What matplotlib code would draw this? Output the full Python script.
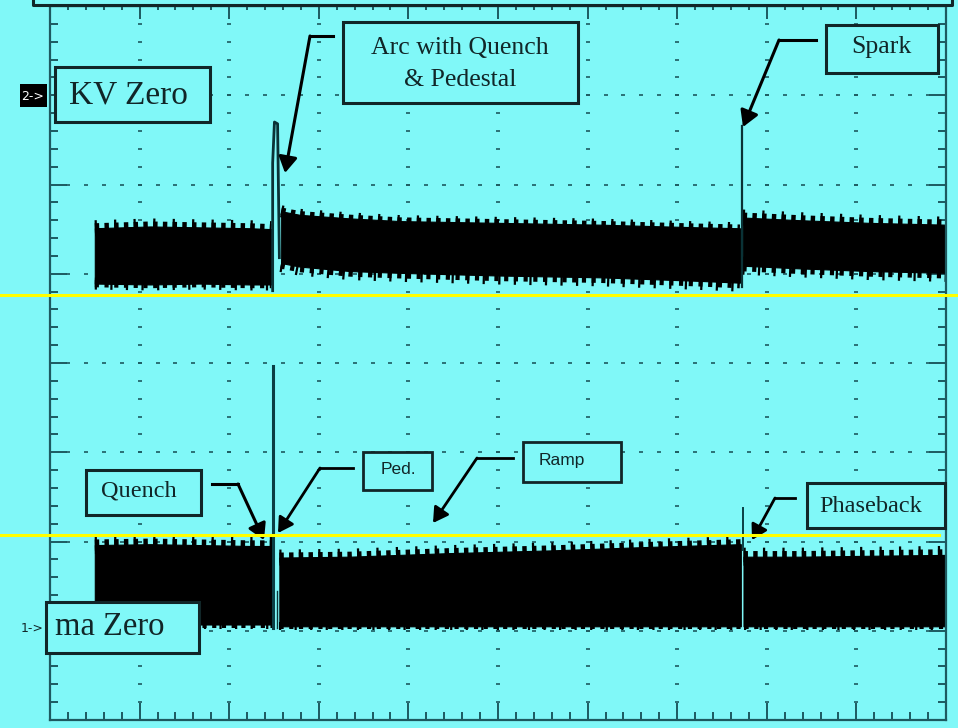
import matplotlib
matplotlib.use('Agg')
import matplotlib.pyplot as plt
from matplotlib.patches import Rectangle, FancyArrowPatch
from matplotlib.lines import Line2D
import numpy as np

plt.rcParams['lines.scale_dashes'] = False

BG = '#80f8f8'
INK = '#112628'
TEAL = '#1d5a60'
W, H = 958, 728

# --- trace envelopes, in scope divisions (x: 0..10, y: 0..8) ---
# channel 2 (kV)
kv_t_pre = [0.50, 1.12, 1.67, 2.23, 2.47]
kv_top_pre = [5.51, 5.53, 5.52, 5.51, 5.50]
kv_bot_pre = [4.89, 4.88, 4.89, 4.88, 4.88]
kv_t_mid = [2.58, 2.79, 3.35, 3.91, 5.02, 6.14, 7.25, 7.70]
kv_top_mid = [5.70, 5.66, 5.62, 5.59, 5.57, 5.55, 5.52, 5.51]
kv_bot_mid = [5.12, 5.08, 5.03, 5.01, 4.98, 4.96, 4.92, 4.90]
kv_t_post = [7.73, 8.37, 9.15, 10.0]
kv_top_post = [5.63, 5.60, 5.57, 5.55]
kv_bot_post = [5.09, 5.06, 5.03, 5.01]
kv_arc_t = [2.485, 2.485, 2.505, 2.54, 2.56]
kv_arc_v = [4.81, 6.24, 6.70, 6.68, 5.18]
kv_spark_t = 7.72
kv_spark_v = [4.85, 6.66]

# channel 1 (mA)
ma_t_pre = [0.50, 1.12, 1.67, 2.23, 2.48]
ma_top_pre = [1.96, 1.97, 1.96, 1.95, 1.95]
ma_bot_pre = [1.07, 1.07, 1.07, 1.07, 1.07]
ma_t_mid = [2.56, 3.35, 4.46, 5.58, 6.70, 7.71]
ma_top_mid = [1.82, 1.83, 1.87, 1.90, 1.94, 1.97]
ma_bot_mid = [1.05, 1.05, 1.05, 1.05, 1.05, 1.05]
ma_t_post = [7.74, 8.37, 9.15, 10.0]
ma_top_post = [1.83, 1.83, 1.84, 1.85]
ma_bot_post = [1.05, 1.05, 1.05, 1.05]
ma_spike_t = 2.49
ma_spike_v = [1.03, 3.97]
ma_phase_t = 7.73
ma_phase_v = [1.90, 2.37]

fig = plt.figure(figsize=(W / 100, H / 100), dpi=100, facecolor=BG)
ax = fig.add_axes([50 / W, 8 / H, 896 / W, 714 / H], facecolor=BG)
ax.set_xlim(0, 10)
ax.set_ylim(0, 8)

# graticule dots
for gy in range(1, 8):
    gx = np.arange(0.2, 10, 0.2)
    ax.plot(gx, np.full_like(gx, gy), ls='none', marker='_', ms=3, mew=1.2, color=TEAL, zorder=1)
for gx in range(1, 10):
    gy = np.arange(0.2, 8, 0.2)
    ax.plot(np.full_like(gy, gx), gy, ls='none', marker='_', ms=3, mew=1.2, color=TEAL, zorder=1)


def band(t, top, bot, up=8, down=6):
    ax.fill_between(t, bot, top, color='black', lw=0.8, zorder=2)
    # comb-like fringe of the sampled trace
    ax.plot(t, top, color='black', lw=up * 0.9, dashes=(3.2, 3.8),
            dash_capstyle='butt', zorder=2)
    ax.plot(t, top, color='black', lw=up * 1.44, dashes=(1.6, 12.4),
            dash_capstyle='butt', zorder=2)
    ax.plot(t, bot, color='black', lw=down * 0.9, dashes=(3.0, 4.0),
            dash_capstyle='butt', zorder=2)
    ax.plot(t, bot, color='black', lw=down * 1.44, dashes=(1.6, 9.6),
            dash_capstyle='butt', zorder=2)


band(kv_t_pre, kv_top_pre, kv_bot_pre, 8, 6)
band(kv_t_mid, kv_top_mid, kv_bot_mid, 6, 9)
band(kv_t_post, kv_top_post, kv_bot_post, 8, 9)
ax.plot(kv_arc_t, kv_arc_v, color='#0a3236', lw=2.0, zorder=3)
ax.plot([kv_spark_t, kv_spark_t], kv_spark_v, color='#0a3236', lw=1.6, zorder=3)

band(ma_t_pre, ma_top_pre, ma_bot_pre, 9, 4)
band(ma_t_mid, ma_top_mid, ma_bot_mid, 8, 4)
band(ma_t_post, ma_top_post, ma_bot_post, 9, 4)
ax.plot([ma_spike_t, ma_spike_t], ma_spike_v, color='#0a3e44', lw=2.2, zorder=3)
ax.plot([2.53, 2.53], [1.03, 1.45], color='#0a3236', lw=1.0, zorder=3)
ax.plot([ma_phase_t, ma_phase_t], ma_phase_v, color='#0a3e44', lw=1.4, zorder=3)

# frame & ticks
for s in ax.spines.values():
    s.set_color(TEAL)
    s.set_linewidth(1.6)
ax.set_xticks(np.arange(0, 11, 1))
ax.set_xticks(np.arange(0, 10.01, 0.2), minor=True)
ax.set_yticks(np.arange(0, 9, 1))
ax.set_yticks(np.arange(0, 8.01, 0.2), minor=True)
ax.tick_params(which='both', direction='in', left=True, right=True, bottom=True, top=False,
               labelleft=False, labelbottom=False, color=TEAL, width=1.4)
ax.tick_params(which='major', length=12)
ax.tick_params(which='minor', length=6)
sec = ax.secondary_xaxis('top')
sec.set_xticks(np.arange(0, 11, 1))
sec.set_xticks(np.arange(0, 10.01, 0.2), minor=True)
sec.tick_params(which='both', direction='in', labeltop=False, color=TEAL, width=1.4)
sec.tick_params(which='major', length=9)
sec.tick_params(which='minor', length=3)
sec.spines['top'].set_color(TEAL)


# ---- annotation layer in pixel coordinates ----
def P(x, y):
    return (x / W, 1 - y / H)


def box(x0, y0, x1, y1, lw=2.2, fc=BG):
    fig.add_artist(Rectangle(P(x0, y1), (x1 - x0) / W, (y1 - y0) / H, transform=fig.transFigure,
                             fc=fc, ec=INK, lw=lw, zorder=5))


def label(x, y, s, size, family='Liberation Serif', color=INK, ha='center'):
    fig.text(*P(x, y), s, fontsize=size, family=family, color=color, ha=ha, va='center', zorder=6)


def pointer(xs, ys, tip, lw=2.2, head=16):
    fig.add_artist(Line2D([x / W for x in xs], [1 - y / H for y in ys], transform=fig.transFigure,
                          color='black', lw=lw, zorder=6))
    fig.add_artist(FancyArrowPatch(P(xs[0], ys[0]), P(*tip), transform=fig.transFigure,
                                   arrowstyle='-|>,head_length=0.6,head_width=0.35',
                                   mutation_scale=head, color='black', lw=lw,
                                   shrinkA=0, shrinkB=0, zorder=6))


# partially visible title box
fig.add_artist(Line2D([33 / W, 33 / W, 952 / W, 952 / W], [1, 1 - 5 / H, 1 - 5 / H, 1],
                      transform=fig.transFigure, color=INK, lw=2.2, zorder=6))

# channel markers
box(20, 84, 47, 107, lw=0, fc='black')
label(33, 96, '2->', 9, family='DejaVu Sans', color='white')
label(32, 628, '1->', 9, family='DejaVu Sans', color=INK)

box(55, 67, 210, 122)
label(128, 95, 'KV Zero', 24)
box(46, 602, 199, 653)
label(110, 627, 'ma Zero', 23.5)

box(343, 22, 578, 103)
label(460, 48, 'Arc with Quench', 18.5)
label(460, 80, '& Pedestal', 18.5)
pointer([310, 333], [36, 36], (285, 173))

box(826, 25, 938, 73)
label(881, 47, 'Spark', 18.5)
pointer([779, 816], [40, 40], (743, 127))

box(86, 470, 201, 515)
label(139, 491, 'Quench', 17.5)
pointer([238, 212], [484, 484], (264, 540))

box(363, 452, 432, 490, lw=2.0)
label(398, 470, 'Ped.', 12.5, family='Liberation Sans')
pointer([320, 353], [468, 468], (278, 533), lw=2.0, head=15)

box(523, 442, 621, 482, lw=2.0)
label(562, 461, 'Ramp', 12.5, family='Liberation Sans')
pointer([477, 513], [458, 458], (433, 523), lw=2.0, head=15)

box(807, 483, 945, 528)
label(871, 506, 'Phaseback', 17.5)
pointer([775, 795], [498, 498], (752, 540), lw=2.0, head=15)

# yellow scan lines
fig.add_artist(Line2D([0, 1], [1 - 295 / H] * 2, transform=fig.transFigure, color='#ffff00', lw=2.2, zorder=10))
fig.add_artist(Line2D([0, 939 / W], [1 - 535 / H] * 2, transform=fig.transFigure, color='#ffff00', lw=2.2, zorder=10))

fig.savefig('out.png', dpi=100, facecolor=BG)
